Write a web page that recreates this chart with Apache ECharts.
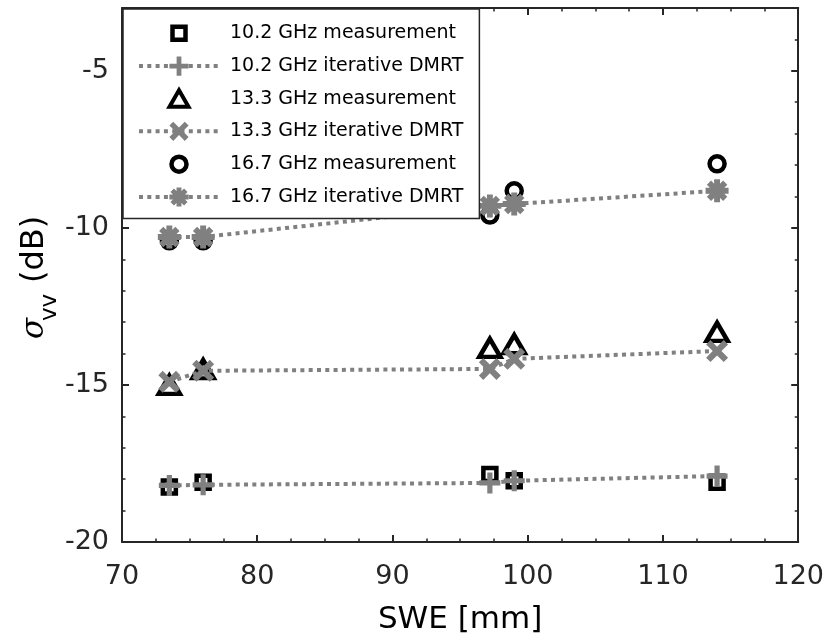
<!DOCTYPE html>
<html>
<head>
<meta charset="utf-8">
<script src="https://cdn.jsdelivr.net/npm/echarts@6/dist/echarts.min.js"></script>
<style>
html,body{margin:0;padding:0;background:#fff;}
#chart{width:827px;height:640px;}
</style>
</head>
<body>
<div id="chart"></div>
<script>
// ---- data ----
const swe = [73.5, 76, 97.2, 99, 114];
const meas10 = [-18.25, -18.1, -17.85, -18.05, -18.1];
const dmrt10 = [-18.2, -18.18, -18.12, -18.05, -17.9];
const meas13 = [-15.0, -14.5, -13.82, -13.7, -13.31];
const dmrt13 = [-14.9, -14.55, -14.49, -14.17, -13.92];
const meas16 = [-10.41, -10.41, -9.59, -8.82, -7.96];
const dmrt16 = [-10.29, -10.29, -9.3, -9.24, -8.82];
const seriesNames = [
  '10.2 GHz measurement', '10.2 GHz iterative DMRT',
  '13.3 GHz measurement', '13.3 GHz iterative DMRT',
  '16.7 GHz measurement', '16.7 GHz iterative DMRT'
];
const xTicks = {min: 70, max: 120, interval: 10};
const yTicks = {min: -20, max: -3, interval: 5};

// ---- symbol geometry ----
function plusPts(L, h, ang) {
  const base = [[-h,-L],[h,-L],[h,-h],[L,-h],[L,h],[h,h],[h,L],[-h,L],[-h,h],[-L,h],[-L,-h],[-h,-h]];
  const c = Math.cos(ang), s = Math.sin(ang);
  return base.map(p => [p[0]*c - p[1]*s, p[0]*s + p[1]*c]);
}
function polyPath(pts, off) {
  return pts.map((p,i) => (i ? 'L' : 'M') + (p[0]+off).toFixed(3) + ',' + (p[1]+off).toFixed(3)).join(' ') + ' Z';
}
const plusSym = 'path://' + polyPath(plusPts(10.5, 2.6, 0), 12);
const xSym = 'path://' + polyPath(plusPts(10.5, 2.6, Math.PI/4), 12);
const starSym = 'path://' + polyPath(plusPts(10.5, 2.7, 0), 12) + ' ' + polyPath(plusPts(10.5, 2.7, Math.PI/4), 12);
// legend icons (padded bounding box, 24x24)
const sqIcon = 'path://M0,0 M24,24 M5.5,5.5 L18.5,5.5 L18.5,18.5 L5.5,18.5 Z';
const triIcon = 'path://M0,0 M24,24 M12,3.5 L21.5,20 L2.5,20 Z';
const cirIcon = 'path://M0,0 M24,24 M4.5,12 A7.5,7.5 0 1,1 19.5,12 A7.5,7.5 0 1,1 4.5,12 Z';

const FONT = 'DejaVu Sans';
const AX = '#262626';
const GRAY = '#808080';

function pairs(ys) { return swe.map((x, i) => [x, ys[i]]); }

function measSeries(name, ys, symbol, size) {
  return {
    name, type: 'scatter', data: pairs(ys), symbol, symbolSize: size,
    xAxisIndex: 0, yAxisIndex: 0,
    itemStyle: {color: 'transparent', borderColor: '#000', borderWidth: 4.5, opacity: 1},
    emphasis: {disabled: true}, z: 2
  };
}
function dmrtSeries(name, ys, symbol, size) {
  return {
    name, type: 'line', data: pairs(ys), symbol, symbolSize: size, showSymbol: true,
    xAxisIndex: 0, yAxisIndex: 0,
    lineStyle: {color: GRAY, width: 4, type: [4, 4.3]},
    itemStyle: {color: GRAY, borderWidth: 0},
    emphasis: {disabled: true}, z: 3, animation: false
  };
}

const tickStyle = {color: AX, width: 2};
function xAxisCfg(pos, labels) {
  return {
    type: 'value', position: pos, min: xTicks.min, max: xTicks.max, interval: xTicks.interval,
    axisLine: {show: true, onZero: false, lineStyle: {color: AX, width: 2}},
    axisTick: {show: true, inside: true, length: 7, lineStyle: tickStyle},
    minorTick: {show: true, splitNumber: 4, length: 3.5, lineStyle: {color: AX, width: 1.5}},
    axisLabel: {show: labels, color: AX, fontSize: 27, fontFamily: FONT, margin: 21},
    splitLine: {show: false}, minorSplitLine: {show: false},
    name: labels ? 'SWE [mm]' : '', nameLocation: 'middle', nameGap: 62,
    nameTextStyle: {color: '#000', fontSize: 31, fontFamily: FONT}
  };
}
function yAxisCfg(pos, labels, interval, len, line) {
  return {
    type: 'value', position: pos, min: yTicks.min, max: yTicks.max, interval,
    axisLine: {show: line, onZero: false, lineStyle: {color: AX, width: 2}},
    axisTick: {show: true, inside: true, length: len, lineStyle: {color: AX, width: len > 5 ? 2 : 1.5}},
    axisLabel: {show: labels, color: AX, fontSize: 27, fontFamily: FONT, margin: 13, showMaxLabel: false},
    splitLine: {show: false}
  };
}

const chart = echarts.init(document.getElementById('chart'), null, {renderer: 'canvas'});
chart.setOption({
  backgroundColor: '#fff',
  animation: false,
  grid: {left: 122, right: 26, top: 8, bottom: 97, containLabel: false},
  xAxis: [xAxisCfg('bottom', true), xAxisCfg('top', false)],
  yAxis: [
    yAxisCfg('left', true, yTicks.interval, 7, true),
    yAxisCfg('right', false, yTicks.interval, 7, true),
    yAxisCfg('left', false, 1, 3.5, false),
    yAxisCfg('right', false, 1, 3.5, false)
  ],
  legend: {
    orient: 'vertical', left: 123, top: 9,
    padding: [10, 16, 12, 14],
    itemWidth: 80, itemHeight: 24, itemGap: 9,
    backgroundColor: '#fff', borderColor: AX, borderWidth: 1.5, borderRadius: 0,
    selectedMode: false,
    lineStyle: {width: 4},
    textStyle: {fontFamily: FONT, fontSize: 19, color: '#000', padding: [0, 0, 0, 6]},
    data: [
      {name: seriesNames[0], icon: sqIcon, itemStyle: {borderWidth: 4.5}},
      {name: seriesNames[1]},
      {name: seriesNames[2], icon: triIcon, itemStyle: {borderWidth: 4}},
      {name: seriesNames[3]},
      {name: seriesNames[4], icon: cirIcon, itemStyle: {borderWidth: 4.5}},
      {name: seriesNames[5]}
    ],
    z: 10
  },
  series: [
    measSeries(seriesNames[0], meas10, 'rect', 13),
    dmrtSeries(seriesNames[1], dmrt10, plusSym, 21),
    measSeries(seriesNames[2], meas13, 'triangle', [21, 18]),
    dmrtSeries(seriesNames[3], dmrt13, xSym, 22),
    measSeries(seriesNames[4], meas16, 'circle', 15),
    dmrtSeries(seriesNames[5], dmrt16, starSym, 23)
  ],
  graphic: [{
    type: 'group', x: 35, y: 277, rotation: Math.PI / 2, silent: true,
    children: [
      {type: 'text', x: -62, y: 0, style: {text: 'σ', font: 'italic 31px "DejaVu Serif"', fill: '#000', align: 'left', verticalAlign: 'middle'}},
      {type: 'text', x: -44, y: 15, style: {text: 'vv', font: '23px "DejaVu Sans"', fill: '#000', align: 'left', verticalAlign: 'middle'}},
      {type: 'text', x: -6, y: 0, style: {text: '(dB)', font: '32px "DejaVu Sans"', fill: '#000', align: 'left', verticalAlign: 'middle'}}
    ]
  }]
});
</script>
</body>
</html>
